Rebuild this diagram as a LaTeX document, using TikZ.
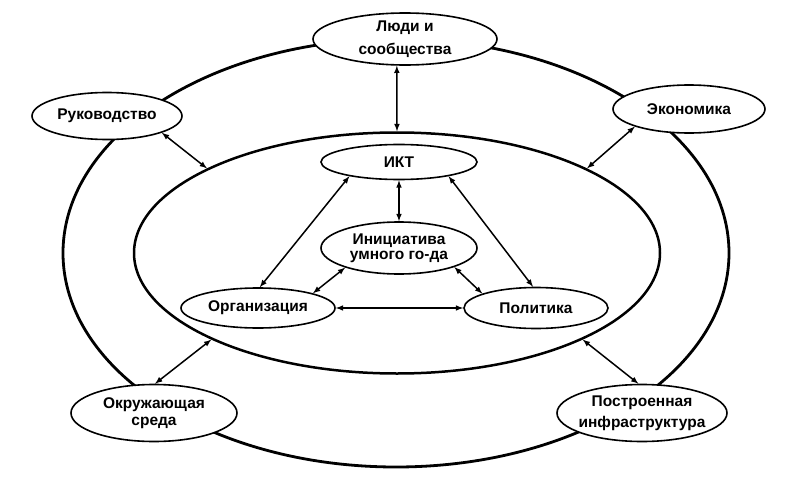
\documentclass[tikz,border=0pt]{standalone}
\usepackage{fontspec}
\setmainfont{Liberation Sans}
\usetikzlibrary{shapes.geometric}

\begin{document}
\begin{tikzpicture}[x=1pt,y=-1pt,
        ring/.style={ellipse, draw, line width=2.8pt, inner sep=-60pt},
        bub/.style={ellipse, draw, fill=white, line width=1.6pt, inner sep=-30pt,
            align=center, font=\fontsize{15.5}{17}\selectfont\bfseries},
        link/.style={latex-latex, line width=1.5pt}]%
        \useasboundingbox (0,0) rectangle (785,479);
        \node[ring, minimum width=666pt, minimum height=428pt] (outer) at (396,253) {};
        \node[ring, minimum width=526pt, minimum height=241pt, line width=2.5pt] (inner) at (397,253) {};
        \node[bub, minimum width=184pt, minimum height=52pt] (ljudi) at (405,39) {Люди и\\[6pt]сообщества};
        \node[bub, minimum width=150pt, minimum height=47pt] (ruk) at (107,116) {Руководство};
        \node[bub, minimum width=152pt, minimum height=48pt] (eco) at (689,109) {Экономика};
        \node[bub, minimum width=156pt, minimum height=35pt] (ikt) at (399,162) {ИКТ};
        \node[bub, minimum width=156pt, minimum height=52pt] (ini) at (399,248) {Инициатива\\[-2pt]умного го-да};
        \node[bub, minimum width=154pt, minimum height=40pt] (org) at (258,308) {Организация};
        \node[bub, minimum width=144pt, minimum height=41pt] (pol) at (536,308) {Политика};
        \node[bub, minimum width=166pt, minimum height=57pt] (okr) at (154,413) {Окружающая\\среда};
        \node[bub, minimum width=170pt, minimum height=57pt] (post) at (642,413) {Построенная\\[4pt]инфраструктура};
        \draw[link] (ljudi.253) -- (inner.north);
        \draw[link] (ruk.343) -- (inner.156);
        \draw[link] (eco.198) -- (inner.24);
        \draw[link] (okr.88) -- (inner.205);
        \draw[link] (post.97) -- (inner.335);
        \draw[link] (ikt.south) -- (ini.north);
        \draw[link] (ikt.196) -- (org.85);
        \draw[link] (ikt.344) -- (pol.98);
        \draw[link] (ini.200) -- (org.15);
        \draw[link] (ini.341) -- (pol.165);
        \draw[link] (org.east) -- (pol.west);
    \end{tikzpicture}
\end{document}
